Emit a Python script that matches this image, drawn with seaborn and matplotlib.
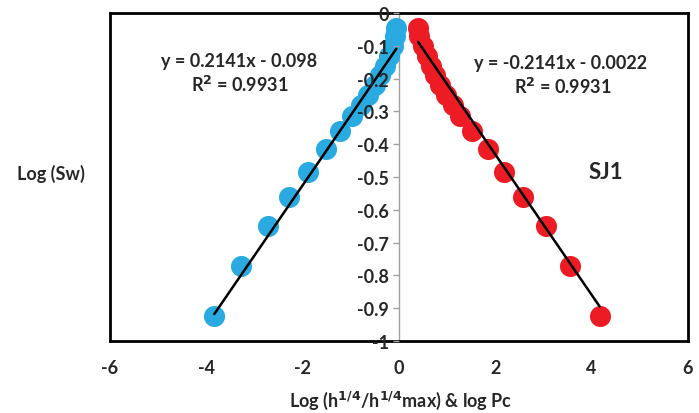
import numpy as np
import pandas as pd
import matplotlib.pyplot as plt
import seaborn as sns

# Log(Sw) values, shared by both series
log_sw = [-0.045, -0.07, -0.10, -0.13, -0.16, -0.19, -0.22, -0.25, -0.28,
          -0.315, -0.36, -0.415, -0.485, -0.56, -0.65, -0.77, -0.925]
# Log(h^1/4 / h^1/4 max)
log_h = [-0.05, -0.08, -0.13, -0.20, -0.28, -0.38, -0.50, -0.63, -0.78,
         -0.98, -1.22, -1.52, -1.875, -2.27, -2.72, -3.27, -3.83]
# log Pc
log_pc = [0.40, 0.43, 0.50, 0.58, 0.66, 0.75, 0.86, 0.98, 1.12,
          1.28, 1.52, 1.85, 2.19, 2.58, 3.06, 3.56, 4.17]

# trendline coefficients shown on the chart
blue_fit = (0.2141, -0.098)
red_fit = (-0.2141, -0.0022)

yticks = [0, -0.1, -0.2, -0.3, -0.4, -0.5, -0.6, -0.7, -0.8, -0.9, -1]
ytick_labels = ['0', '-0.1', '-0.2', '-0.3', '-0.4', '-0.5', '-0.6', '-0.7', '-0.8', '-0.9', '-1']
xticks = [-6, -4, -2, 0, 2, 4, 6]

blue = '#29ABE2'
red = '#ED1C24'
txt = '#262626'
fs = 13

sns.set_style('white')
plt.rcParams['font.family'] = ['Lato', 'DejaVu Sans']
plt.rcParams['font.weight'] = 'bold'

df_h = pd.DataFrame({'x': log_h, 'y': log_sw})
df_pc = pd.DataFrame({'x': log_pc, 'y': log_sw})

fig = plt.figure(figsize=(6.99, 4.14), dpi=100)
ax = fig.add_axes([0.157, 0.174, 0.984 - 0.157, 0.966 - 0.174])

sns.scatterplot(data=df_h, x='x', y='y', color=blue, s=230, linewidth=0, ax=ax, zorder=3)
sns.scatterplot(data=df_pc, x='x', y='y', color=red, s=230, linewidth=0, ax=ax, zorder=3)

# trendlines
xb = np.array([min(log_h), max(log_h)])
ax.plot(xb, blue_fit[0] * xb + blue_fit[1], color='black', lw=1.8, zorder=4)
xr = np.array([min(log_pc), max(log_pc)])
ax.plot(xr, red_fit[0] * xr + red_fit[1], color='black', lw=1.8, zorder=4)

ax.set_xlim(-6, 6)
ax.set_ylim(-1, 0)
ax.set_xlabel('')
ax.set_ylabel('')

# y axis through x = 0
ax.spines['left'].set_position(('data', 0))
ax.spines['left'].set_color('#A0A0A0')
ax.spines['left'].set_linewidth(1)
for side in ['top', 'right', 'bottom']:
    ax.spines[side].set_color('black')
    ax.spines[side].set_linewidth(2)
ax.plot([0, 0], [0, 1], transform=ax.transAxes, color='black', lw=2, clip_on=False, zorder=5)

ax.set_yticks(yticks)
ax.set_yticklabels(ytick_labels)
ax.tick_params(axis='y', direction='out', length=4, color='#A0A0A0', width=1,
               labelsize=fs, labelcolor=txt, pad=3, left=True)
ax.set_xticks(xticks)
ax.set_xticklabels([str(v) for v in xticks])
ax.tick_params(axis='x', length=0, labelsize=fs, labelcolor=txt, pad=13)
for lab in ax.get_xticklabels() + ax.get_yticklabels():
    lab.set_fontweight('bold')
# tick labels sit on top of the markers
ax.yaxis.set_zorder(6)

# trendline equations
ax.text(-3.31, -0.146, 'y = 0.2141x - 0.098', ha='center', va='center',
        fontsize=fs, fontweight='bold', color=txt)
ax.text(-3.31, -0.216, 'R$^2$ = 0.9931', ha='center', va='center',
        fontsize=fs, fontweight='bold', color=txt)
ax.text(3.35, -0.15, 'y = -0.2141x - 0.0022', ha='center', va='center',
        fontsize=fs, fontweight='bold', color=txt)
ax.text(3.4, -0.222, 'R$^2$ = 0.9931', ha='center', va='center',
        fontsize=fs, fontweight='bold', color=txt)
ax.text(4.3, -0.482, 'SJ1', ha='center', va='center',
        fontsize=16, fontweight='bold', color=txt)

fig.text(51 / 699, 1 - 174 / 414, 'Log (Sw)', ha='center', va='center',
         fontsize=fs, fontweight='bold', color=txt)
fig.text(401 / 699, 1 - 401 / 414, 'Log (h$^{1/4}$/h$^{1/4}$max) & log Pc',
         ha='center', va='center', fontsize=fs, fontweight='bold', color=txt)

fig.savefig('out.png', dpi=100)
